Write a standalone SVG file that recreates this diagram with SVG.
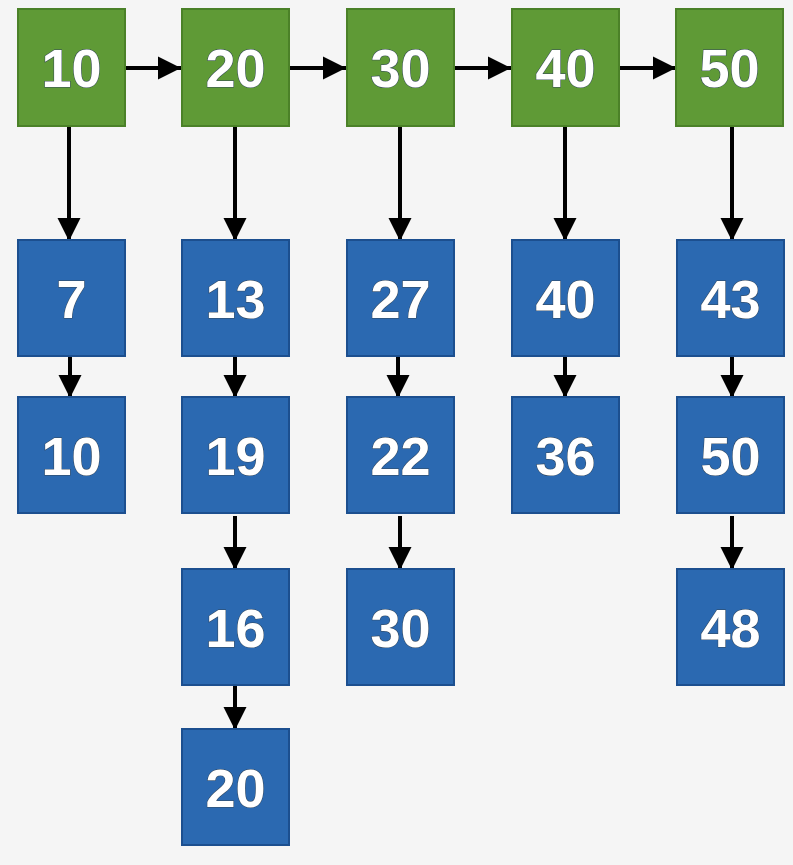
<svg xmlns="http://www.w3.org/2000/svg" width="793" height="865" viewBox="0 0 793 865">
<style>
.g{fill:#5f9a36;stroke:#4b8128;stroke-width:2}
.b{fill:#2b69b1;stroke:#1c4f8f;stroke-width:2}
.t{fill:#ffffff;font-family:"Liberation Sans",Arial,sans-serif;font-weight:bold;font-size:54px;text-anchor:middle;stroke:#33465a;stroke-width:1;paint-order:stroke}
.c line{stroke:#000;stroke-width:4;marker-end:url(#ah)}
</style>
<defs>
<marker id="ah" viewBox="0 0 10 10" refX="10" refY="5" markerWidth="5.8" markerHeight="5.8" markerUnits="strokeWidth" orient="auto">
<path d="M0,0 L10,5 L0,10 Z" fill="#000"/>
</marker>
</defs>
<rect width="793" height="865" fill="#f5f5f5"/>
<g class="c" id="connectors">
<line x1="125" y1="68" x2="181" y2="68"/>
<line x1="289" y1="68" x2="346" y2="68"/>
<line x1="454" y1="68" x2="511" y2="68"/>
<line x1="619" y1="68" x2="676" y2="68"/>
<line x1="69" y1="126" x2="69" y2="241"/>
<line x1="235" y1="126" x2="235" y2="241"/>
<line x1="400" y1="126" x2="400" y2="241"/>
<line x1="565" y1="126" x2="565" y2="241"/>
<line x1="732" y1="126" x2="732" y2="241"/>
<line x1="70" y1="356" x2="70" y2="398"/>
<line x1="235" y1="356" x2="235" y2="398"/>
<line x1="398" y1="356" x2="398" y2="398"/>
<line x1="565" y1="356" x2="565" y2="398"/>
<line x1="732" y1="356" x2="732" y2="398"/>
<line x1="235" y1="516" x2="235" y2="570"/>
<line x1="400" y1="516" x2="400" y2="570"/>
<line x1="732" y1="516" x2="732" y2="570"/>
<line x1="235" y1="685" x2="235" y2="730"/>
</g>
<g id="g10"><rect class="g" x="18" y="9" width="107" height="117"/><text class="t" x="71.5" y="87">10</text></g>
<g id="g20"><rect class="g" x="182" y="9" width="107" height="117"/><text class="t" x="235.5" y="87">20</text></g>
<g id="g30"><rect class="g" x="347" y="9" width="107" height="117"/><text class="t" x="400.5" y="87">30</text></g>
<g id="g40"><rect class="g" x="512" y="9" width="107" height="117"/><text class="t" x="565.5" y="87">40</text></g>
<g id="g50"><rect class="g" x="676" y="9" width="107" height="117"/><text class="t" x="729.5" y="87">50</text></g>
<g id="b7"><rect class="b" x="18" y="240" width="107" height="116"/><text class="t" x="71.5" y="318">7</text></g>
<g id="b10"><rect class="b" x="18" y="397" width="107" height="116"/><text class="t" x="71.5" y="475">10</text></g>
<g id="b13"><rect class="b" x="182" y="240" width="107" height="116"/><text class="t" x="235.5" y="318">13</text></g>
<g id="b19"><rect class="b" x="182" y="397" width="107" height="116"/><text class="t" x="235.5" y="475">19</text></g>
<g id="b16"><rect class="b" x="182" y="569" width="107" height="116"/><text class="t" x="235.5" y="647">16</text></g>
<g id="b20"><rect class="b" x="182" y="729" width="107" height="116"/><text class="t" x="235.5" y="807">20</text></g>
<g id="b27"><rect class="b" x="347" y="240" width="107" height="116"/><text class="t" x="400.5" y="318">27</text></g>
<g id="b22"><rect class="b" x="347" y="397" width="107" height="116"/><text class="t" x="400.5" y="475">22</text></g>
<g id="b30"><rect class="b" x="347" y="569" width="107" height="116"/><text class="t" x="400.5" y="647">30</text></g>
<g id="b40"><rect class="b" x="512" y="240" width="107" height="116"/><text class="t" x="565.5" y="318">40</text></g>
<g id="b36"><rect class="b" x="512" y="397" width="107" height="116"/><text class="t" x="565.5" y="475">36</text></g>
<g id="b43"><rect class="b" x="677" y="240" width="107" height="116"/><text class="t" x="730.5" y="318">43</text></g>
<g id="b50"><rect class="b" x="677" y="397" width="107" height="116"/><text class="t" x="730.5" y="475">50</text></g>
<g id="b48"><rect class="b" x="677" y="569" width="107" height="116"/><text class="t" x="730.5" y="647">48</text></g>
</svg>
